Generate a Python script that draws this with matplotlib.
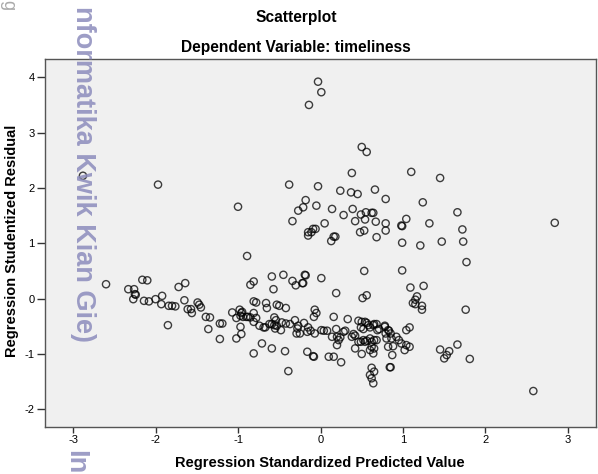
import matplotlib.pyplot as plt

# predicted value (x) / studentized residual (y)
pred = [-2.88, -1.97, -0.03, 0.01, -0.14, -0.38, -0.03, -1.00, -0.18, -0.21, -0.27, -0.05, -0.34,
        -0.09, -0.06, -0.15, -0.11, -0.15, 0.05,
        0.50, 0.56, 0.38, 1.10, 1.45, 0.24, 0.37, 0.45, 0.66, 0.79, 1.24, 0.14, 0.39, 0.28, 0.49,
        0.55, 0.62, 0.64, 0.67, 0.54, 0.42, 0.79, 1.04, 0.98, 0.99, 1.32, 1.66, 1.72, 0.53, 0.48, 0.79,
        0.16, 0.18, 0.13, 0.68, 0.99, 1.21, 1.47, 1.73, 1.77, 2.84,
        0.53, 0.99, -0.19, -0.22, 0.01, 0.19, 0.51, 0.56, 1.09, 1.25, 1.17, 1.15, 1.12, 1.15, 1.23,
        1.23, 1.76,
        -0.89, -0.85, -0.81, -0.59, -0.57, -0.45, -0.34, -0.30, -0.21, -0.18,
        -2.60, -2.33, -2.26, -2.25, -2.24, -2.27, -2.16, -2.10, -2.14, -2.08, -2.00, -1.92, -1.93,
        -1.84, -1.80, -1.76, -1.85, -1.72, -1.64, -1.65, -1.61, -1.57, -1.56, -1.49, -1.47, -1.45,
        -1.39, -1.34, -1.36, -1.22, -1.19, -1.22, -1.07, -1.02, -1.02, -0.96,
        -0.98, -0.96, -0.97, -0.94, -0.90, -0.88, -0.95, -0.85, -0.97,
        -0.81, -0.78, -0.81, -0.78, -0.81, -0.81, -0.71, -0.74, -0.69, -0.67, -0.66, -0.65, -0.59,
        -0.56, -0.54, -0.56, -0.53, -0.55, -0.62, -0.59, -0.53, -0.50, -0.47, -0.42, -0.37, -0.48,
        -0.43, -0.42, -0.39, -0.31, -0.29, -0.27, -0.28, -0.25,
        -0.07, -0.05, -0.08, 0.16, -0.20, -0.15, -0.12, -0.16, -0.07, 0.01, 0.04, 0.08, 0.19, 0.14,
        0.20, 0.24, 0.28, 0.30, 0.33, 0.38, 0.40, 0.42, 0.46, 0.50, 0.54, 0.56, 0.65, 0.68, 0.49,
        0.52, 0.58, 0.60, 0.64, 0.69, 0.71, 0.22, 0.20, 0.42, 0.46, 0.49, 0.52, 0.54, 0.56, 0.60,
        0.62, 0.65, 0.68, 0.60, 0.62, 0.65, 0.50, 0.62, 0.65, 0.60, 0.62, 0.64, 0.64, 0.78, 0.82,
        0.79, 0.85, 0.78, 0.83, 0.80, 0.86, 0.92, 0.95, 0.82, 0.88, 0.87, 0.84, 0.85, 0.98, 1.04,
        1.02, 1.08, 1.04, 1.08, 0.25, 0.10, 0.16, -0.08, -0.09, -0.16,
        1.45, 1.50, 1.53, 1.56, 1.66, 1.81, 2.58]

resid = [2.22, 2.06, 3.92, 3.73, 3.50, 2.06, 2.03, 1.66, 1.78, 1.65, 1.59, 1.68, 1.40,
         1.26, 1.26, 1.20, 1.20, 1.14, 1.36,
         2.74, 2.65, 2.27, 2.29, 2.18, 1.95, 1.92, 1.89, 1.97, 1.80, 1.74, 1.62, 1.62, 1.51, 1.52,
         1.56, 1.55, 1.55, 1.39, 1.43, 1.40, 1.36, 1.44, 1.32, 1.31, 1.36, 1.56, 1.25, 1.23, 1.20, 1.23,
         1.12, 1.12, 1.04, 1.11, 1.01, 0.96, 1.03, 1.03, 0.66, 1.37,
         0.50, 0.51, 0.43, 0.28, 0.37, 0.10, 0.01, 0.06, 0.20, 0.23, 0.04, -0.02, -0.08, -0.10, -0.13,
         -0.20, -0.20,
         0.77, 0.25, 0.31, 0.40, 0.17, 0.43, 0.32, 0.24, 0.28, 0.42,
         0.26, 0.17, 0.17, 0.08, 0.07, -0.01, 0.34, 0.33, -0.04, -0.05, -0.01, 0.05, -0.10,
         -0.13, -0.13, -0.14, -0.48, 0.21, 0.28, -0.03, -0.19, -0.19, -0.26, -0.07, -0.11, -0.16,
         -0.33, -0.34, -0.55, -0.45, -0.45, -0.73, -0.25, -0.35, -0.72, -0.64,
         -0.20, -0.26, -0.31, -0.33, -0.33, -0.33, -0.24, -0.34, -0.51,
         -0.05, -0.07, -0.26, -0.35, -0.42, -0.99, -0.81, -0.49, -0.52, -0.52, -0.08, -0.17, -0.90,
         -0.34, -0.39, -0.48, -0.49, -0.54, -0.46, -0.46, -0.11, -0.13, -0.43, -0.45, -0.46, -0.57,
         -0.95, -0.17, -1.31, -0.39, -0.63, -0.49, -0.54, -0.63,
         -0.20, -0.26, -0.33, -0.33, -0.44, -0.52, -0.58, -0.60, -0.63, -0.57, -0.58, -0.58, -0.55, -0.69,
         -0.69, -0.70, -0.60, -0.58, -0.37, -0.69, -0.64, -0.67, -0.40, -0.42, -0.42, -0.44, -0.46, -0.46, -0.52,
         -0.55, -0.48, -0.52, -0.48, -0.57, -0.55, -0.75, -0.84, -0.90, -0.78, -0.78, -0.75, -0.78, -0.76, -0.72,
         -0.78, -0.75, -0.75, -0.93, -0.87, -0.90, -1.00, -1.25, -1.32, -1.38, -1.44, -1.53, -0.99, -0.49, -0.57,
         -0.63, -0.63, -0.51, -0.58, -0.72, -0.72, -0.69, -0.75, -0.87, -0.86, -1.02, -1.24, -1.24, -0.81, -0.84,
         -0.93, -0.87, -0.57, -0.52, -1.15, -1.05, -1.05, -1.05, -1.04, -0.96,
         -0.92, -1.08, -1.02, -0.95, -0.83, -1.09, -1.67]

xticks = [-3, -2, -1, 0, 1, 2, 3]
yticks = [-2, -1, 0, 1, 2, 3, 4]

plt.rcParams['font.family'] = ['Liberation Sans', 'DejaVu Sans']
plt.rcParams['axes.unicode_minus'] = False

W, H = 598, 474
fig = plt.figure(figsize=(W / 100, H / 100), dpi=100)
ax = fig.add_axes([45 / W, 1 - 427 / H, 551 / W, 368 / H])
ax.set_facecolor('#f0f0f0')

ax.scatter(pred, resid, s=27, facecolors='none', edgecolors='black', linewidths=1.0, alpha=0.75, zorder=3)

ax.set_xlim(-3.34, 3.34)
ax.set_ylim(-2.32, 4.33)
ax.set_xticks(xticks)
ax.set_yticks(yticks)
ax.tick_params(labelsize=8, width=1, color='#333333', pad=2)
ax.tick_params(axis='x', length=4)
ax.tick_params(axis='y', length=5.5)
for sp in ax.spines.values():
    sp.set_color('#555555')
    sp.set_linewidth(1.0)

ax.set_xlabel('Regression Standardized Predicted Value', fontsize=10.5, fontweight='bold')
ax.xaxis.set_label_coords(320 / W, 1 - 456 / H, transform=fig.transFigure)
ax.set_ylabel('Regression Studentized Residual', fontsize=10.5, fontweight='bold')
ax.yaxis.set_label_coords(19 / W, 1 - 241 / H, transform=fig.transFigure)

fig.text(296 / W, 1 - 22 / H, 'Scatterplot', ha='center', va='baseline', fontsize=11.2, fontweight='bold')
fig.text(296 / W, 1 - 51.5 / H, 'Dependent Variable: timeliness', ha='center', va='baseline',
         fontsize=11.2, fontweight='bold')

# watermark
fig.text(83 / W, 1 - 342 / H, 'nformatika Kwik Kian Gie)', rotation=270, ha='center', va='bottom',
         fontsize=19.5, fontweight='bold', color='#8c8cbc', alpha=0.85)
fig.text(75 / W, 0.0, 'In', rotation=270, ha='center', va='bottom',
         fontsize=19.5, fontweight='bold', color='#8c8cbc', alpha=0.85)
fig.text(8 / W, 1.0, 'g', rotation=270, ha='center', va='top', fontsize=13, color='#aaaaaa')

plt.savefig('out.png', dpi=100)
